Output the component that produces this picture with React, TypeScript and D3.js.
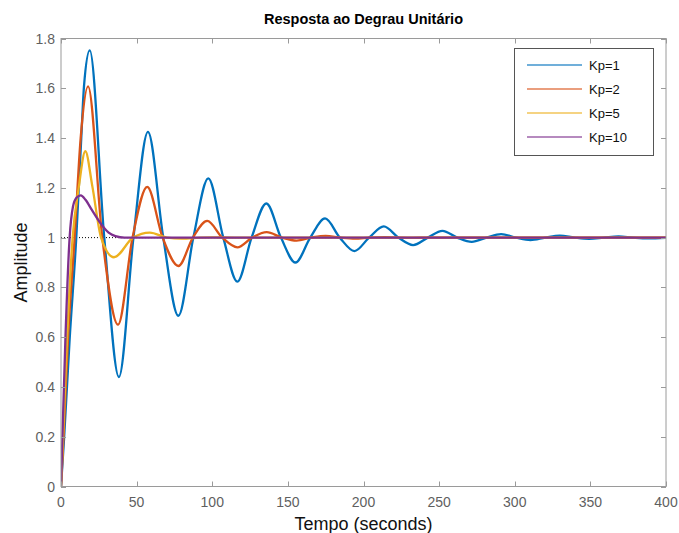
import React from "react";
import * as d3 from "d3";

// step response samples (time in s, amplitude)
const kp1T = [0, 2, 5.7, 10.1, 13.4, 15.2, 19, 28.6, 38.3, 47.9, 57.5, 67.6, 77.6, 87.5, 97.4, 107.3, 116.6, 126, 135.8, 145.4, 155, 164.8, 174.6, 184.3, 194, 203.7, 213.4, 223.1, 232.8, 242.5, 252.2, 261.9, 271.6, 281.3, 291, 300.7, 310.4, 320.1, 329.8, 339.5, 349.2, 358.9, 368.6, 378.3, 388, 400];
const kp1Y = [0, 0.19, 0.59, 1.0, 1.4, 1.608, 1.752, 1.0, 0.44, 1.0, 1.425, 1.0, 0.686, 1.0, 1.238, 1.0, 0.823, 1.0, 1.137, 1.0, 0.9, 1.0, 1.077, 1.0, 0.946, 1.0, 1.045, 1.0, 0.97, 1.0, 1.027, 1.0, 0.983, 1.0, 1.014, 1.0, 0.99, 1.0, 1.008, 1.0, 0.995, 1.0, 1.005, 1.0, 0.997, 0.999];

const kp2T = [0, 1.6, 4.6, 9, 13, 17.9, 27.3, 37.7, 47.3, 57, 67.2, 77.6, 87.2, 96.7, 106.6, 116.6, 126.3, 136, 146, 155.8, 165.4, 175, 184.8, 194.4, 204, 213.8, 223.5, 233.2, 243, 400];
const kp2Y = [0, 0.19, 0.59, 1.0, 1.4, 1.608, 1.0, 0.65, 1.0, 1.204, 1.0, 0.886, 1.0, 1.067, 1.0, 0.961, 1.0, 1.022, 1.0, 0.988, 1.0, 1.007, 1.0, 0.996, 1.0, 1.002, 1.0, 0.999, 1.0, 1.0];

const kp5T = [0, 1.3, 4, 7.7, 11.7, 16.1, 20.7, 26.5, 35, 47.7, 58.7, 70, 80, 92, 100, 115, 400];
const kp5Y = [0, 0.19, 0.59, 1.0, 1.2, 1.347, 1.207, 1.0, 0.921, 1.0, 1.02, 1.0, 0.996, 1.0, 1.001, 1.0, 1.0];

const kp10T = [0, 0.9, 2.9, 5.7, 7.9, 10.2, 13.1, 16.2, 20.5, 25.8, 31.5, 36, 42, 400];
const kp10Y = [0, 0.19, 0.59, 1.0, 1.124, 1.16, 1.17, 1.152, 1.11, 1.06, 1.02, 1.006, 1.0, 1.0];

const seriesNames = ["Kp=1", "Kp=2", "Kp=5", "Kp=10"];
const seriesColors = ["#0072BD", "#D95319", "#EDB120", "#7E2F8E"];
const xTicks = [0, 50, 100, 150, 200, 250, 300, 350, 400];
const yTicks = [0, 0.2, 0.4, 0.6, 0.8, 1, 1.2, 1.4, 1.6, 1.8];

const W = 679;
const H = 533;
const m = { left: 61, right: 666, top: 38.5, bottom: 486.5 };
const font = "'Liberation Sans', Arial, Helvetica, sans-serif";

export default function App() {
  const x = d3.scaleLinear().domain([0, 400]).range([m.left, m.right]);
  const y = d3.scaleLinear().domain([0, 1.8]).range([m.bottom, m.top]);

  const series = [
    [kp1T, kp1Y],
    [kp2T, kp2Y],
    [kp5T, kp5Y],
    [kp10T, kp10Y],
  ].map(([ts, vs]) => ts.map((t, i) => [t, vs[i]] as [number, number]));

  const line = d3
    .line<[number, number]>()
    .x((d) => x(d[0]))
    .y((d) => y(d[1]))
    .curve(d3.curveMonotoneX);

  const axisColor = "#9a9a9a";
  const tickText = "#5f5f5f";
  const tl = 5;

  // legend box
  const lg = { x: 514.5, y: 48.5, w: 139, h: 107 };

  return (
    <svg
      width={W}
      height={H}
      style={{ position: "absolute", left: 0, top: 0, background: "#fff" }}
      fontFamily={font}
    >
      <rect x={0} y={0} width={W} height={H} fill="#fff" />

      {/* steady-state reference */}
      <line
        x1={m.left}
        x2={m.right}
        y1={y(1)}
        y2={y(1)}
        stroke="#000"
        strokeWidth={1}
        strokeDasharray="1,2"
      />

      <defs>
        <clipPath id="clip">
          <rect x={m.left} y={m.top - 2} width={m.right - m.left} height={m.bottom - m.top + 2} />
        </clipPath>
      </defs>
      <g clipPath="url(#clip)">
        {series.map((s, i) => (
          <path
            key={seriesNames[i]}
            d={line(s) || ""}
            fill="none"
            stroke={seriesColors[i]}
            strokeWidth={2.3}
            strokeLinejoin="round"
          />
        ))}
      </g>

      {/* frame */}
      <rect
        x={m.left}
        y={m.top}
        width={m.right - m.left}
        height={m.bottom - m.top}
        fill="none"
        stroke={axisColor}
        strokeWidth={1}
      />

      {/* x ticks */}
      {xTicks.map((t) => (
        <g key={"x" + t}>
          <line x1={Math.round(x(t)) + 0.5} x2={Math.round(x(t)) + 0.5} y1={m.bottom} y2={m.bottom - tl} stroke={axisColor} />
          <line x1={Math.round(x(t)) + 0.5} x2={Math.round(x(t)) + 0.5} y1={m.top} y2={m.top + tl} stroke={axisColor} />
          <text x={x(t)} y={507} textAnchor="middle" fontSize={14} fill={tickText}>
            {t}
          </text>
        </g>
      ))}

      {/* y ticks */}
      {yTicks.map((t) => (
        <g key={"y" + t}>
          <line x1={m.left} x2={m.left + tl} y1={Math.round(y(t)) + 0.5} y2={Math.round(y(t)) + 0.5} stroke={axisColor} />
          <line x1={m.right} x2={m.right - tl} y1={Math.round(y(t)) + 0.5} y2={Math.round(y(t)) + 0.5} stroke={axisColor} />
          <text x={55} y={y(t) + 5} textAnchor="end" fontSize={14} fill={tickText}>
            {t}
          </text>
        </g>
      ))}

      {/* labels */}
      <text x={(m.left + m.right) / 2} y={24} textAnchor="middle" fontSize={14.5} fontWeight="bold" fill="#000">
        Resposta ao Degrau Unitário
      </text>
      <text x={(m.left + m.right) / 2} y={529.5} textAnchor="middle" fontSize={18} fill="#111">
        Tempo (seconds)
      </text>
      <text
        transform={`translate(27,${(m.top + m.bottom) / 2}) rotate(-90)`}
        textAnchor="middle"
        fontSize={18}
        fill="#111"
      >
        Amplitude
      </text>

      {/* legend */}
      <rect x={lg.x} y={lg.y} width={lg.w} height={lg.h} fill="#fff" stroke="#555" strokeWidth={1} />
      {seriesNames.map((name, i) => {
        const ly = 65 + i * 24;
        return (
          <g key={"lg" + name}>
            <line x1={527} x2={582} y1={ly} y2={ly} stroke={seriesColors[i]} strokeWidth={1.5} strokeOpacity={0.75} />
            <text x={589} y={ly + 4.5} fontSize={13} fill="#111">
              {name}
            </text>
          </g>
        );
      })}
    </svg>
  );
}
